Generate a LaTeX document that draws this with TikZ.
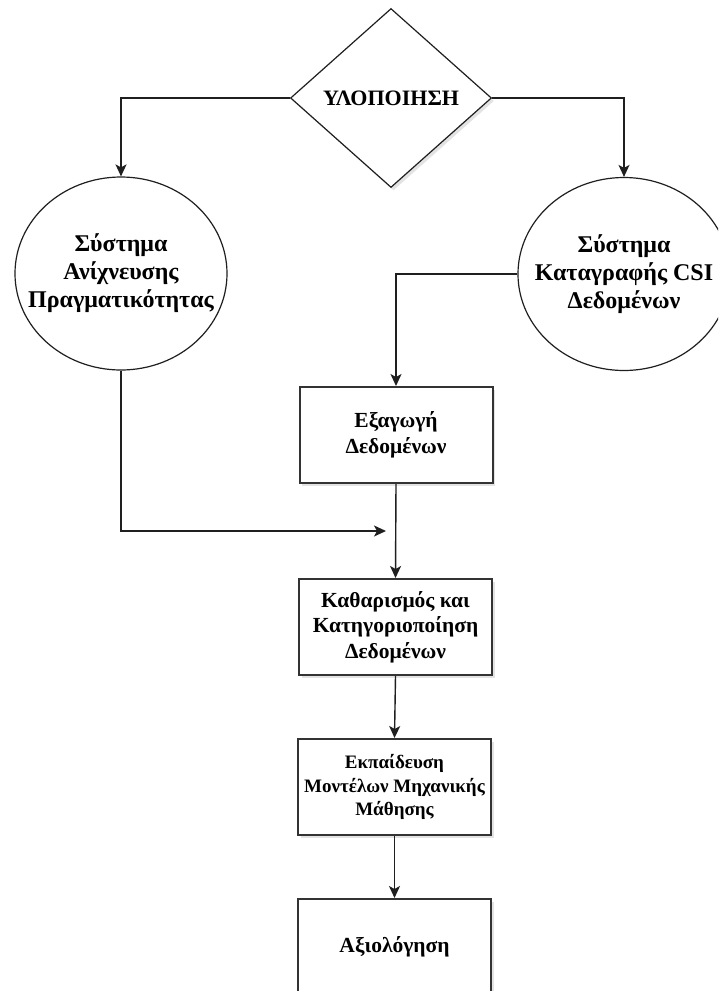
\documentclass[tikz,border=0pt]{standalone}
\usepackage{fontspec}
\setmainfont{Liberation Serif}
\usetikzlibrary{shapes.geometric,arrows.meta,shadows}
\tikzset{
  lineclr/.style={draw=black!88, line width=1.4pt},
  conn/.style={lineclr, -{Stealth[length=12pt,width=11pt,inset=3pt]}},
  softshadow/.style={drop shadow={opacity=0.22, shadow xshift=2.5pt, shadow yshift=-3pt}},
  circ/.style={ellipse, draw=black!88, line width=1.2pt, fill=white, minimum width=212pt, minimum height=193pt, inner sep=0pt},
  circtext/.style={align=center, inner sep=0pt, font=\bfseries\fontsize{24}{28}\selectfont},
  dec/.style={diamond, draw=black!88, line width=1.2pt, fill=white, minimum width=201pt, minimum height=179pt, inner sep=0pt, font=\bfseries\fontsize{22}{26}\selectfont, softshadow},
  stepbox/.style={rectangle, draw=black!80, line width=2pt, fill=white, minimum width=193pt, minimum height=96pt, inner sep=0pt, align=center, font=\bfseries\fontsize{21.5}{25.5}\selectfont, softshadow},
}
\begin{document}
\begin{tikzpicture}[x=1pt,y=-1pt]
\clip (0,0) rectangle (718,991);
\fill[white] (0,0) rectangle (718,991);

\node[dec] (d) at (391,98) {ΥΛΟΠΟΙΗΣΗ};
\node[circ] (l) at (121,273.5) {};
\node[circtext] (lt) at (l.center) {Σύστημα\\Ανίχνευσης\\Πραγματικότητας};
\node[circ] (r) at (624,274) {};
\node[circtext] (rt) at (r.center) {Σύστημα\\Καταγραφής CSI\\Δεδομένων};
\node[stepbox] (b1) at (396,435) {Εξαγωγή\\Δεδομένων};
\node[stepbox] (b2) at (395.5,627) {Καθαρισμός και\\Κατηγοριοποίηση\\Δεδομένων};
\node[stepbox, font=\bfseries\fontsize{19}{23.5}\selectfont] (b3) at (394.5,787) {Εκπαίδευση\\Μοντέλων Μηχανικής\\Μάθησης};
\node[stepbox] (b4) at (394.5,947) {Αξιολόγηση};
\coordinate (m) at (386,531);

\draw[conn] (d.west) -| (l.north);
\draw[conn] (d.east) -| (r.north);
\draw[conn] (r.west) -| (b1.north);
\draw[conn] (b1.south) -- (b2.north);
\draw[conn] (l.south) |- (m);
\draw[conn] (b2.south) -- (b3.north);
\draw[conn] (b3.south) -- (b4.north);
\end{tikzpicture}
\end{document}
